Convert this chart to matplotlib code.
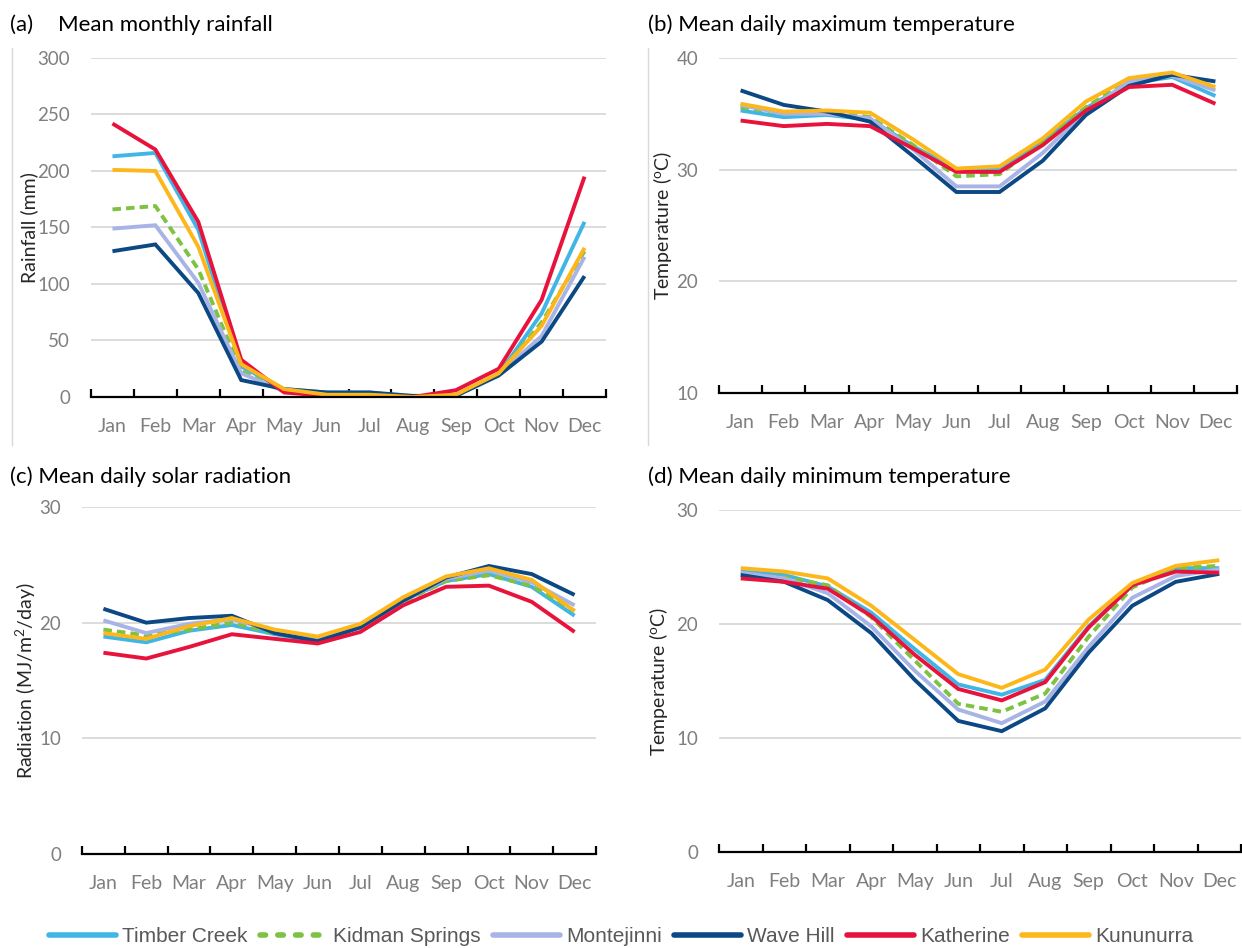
import matplotlib
matplotlib.use("Agg")
import matplotlib.pyplot as plt
from matplotlib.ticker import FixedLocator, NullFormatter, FixedFormatter
from matplotlib.lines import Line2D

# ---- data -----------------------------------------------------------------
months = ["Jan", "Feb", "Mar", "Apr", "May", "Jun",
          "Jul", "Aug", "Sep", "Oct", "Nov", "Dec"]
stations = ["Timber Creek", "Kidman Springs", "Montejinni",
            "Wave Hill", "Katherine", "Kununurra"]

rain_timber = [213, 216, 148, 27, 7, 4, 4, 0, 2, 20, 74, 155]
rain_kidman = [166, 169, 113, 23, 5, 2, 2, 0, 1, 20, 66, 129]
rain_monte = [149, 152, 101, 21, 5, 3, 3, 0, 2, 20, 54, 124]
rain_wave = [129, 135, 92, 15, 7, 4, 4, 1, 1, 19, 49, 107]
rain_kath = [242, 219, 155, 33, 4, 1, 1, 0, 6, 25, 86, 195]
rain_kunu = [201, 200, 133, 29, 7, 2, 2, 0, 2, 21, 63, 132]

tmax_timber = [35.3, 34.7, 34.9, 34.5, 32.1, 30.0, 30.0, 32.5, 35.5, 37.7, 38.3, 36.6]
tmax_kidman = [35.6, 35.0, 35.2, 34.7, 32.2, 29.4, 29.6, 32.5, 35.6, 38.0, 38.4, 37.3]
tmax_monte = [35.8, 35.0, 35.0, 34.6, 31.8, 28.5, 28.5, 31.5, 35.2, 37.9, 38.4, 37.1]
tmax_wave = [37.1, 35.8, 35.2, 34.3, 31.2, 28.0, 28.0, 30.8, 34.9, 37.5, 38.5, 37.9]
tmax_kath = [34.4, 33.9, 34.1, 33.9, 31.9, 29.8, 29.8, 32.2, 35.3, 37.4, 37.6, 35.9]
tmax_kunu = [35.9, 35.2, 35.3, 35.1, 32.7, 30.1, 30.3, 32.8, 36.1, 38.2, 38.7, 37.4]

rad_timber = [18.8, 18.3, 19.3, 19.8, 19.0, 18.4, 19.6, 21.9, 23.6, 24.2, 23.1, 20.6]
rad_kidman = [19.4, 18.9, 19.4, 20.0, 19.1, 18.6, 19.6, 21.8, 23.6, 24.1, 23.2, 21.0]
rad_monte = [20.2, 19.1, 19.9, 20.3, 19.3, 18.6, 19.6, 21.9, 23.8, 24.5, 23.5, 21.5]
rad_wave = [21.2, 20.0, 20.4, 20.6, 19.1, 18.4, 19.6, 21.9, 23.9, 24.9, 24.2, 22.4]
rad_kath = [17.4, 16.9, 17.9, 19.0, 18.6, 18.2, 19.2, 21.5, 23.1, 23.2, 21.8, 19.2]
rad_kunu = [19.1, 18.6, 19.7, 20.4, 19.4, 18.8, 19.9, 22.2, 24.0, 24.7, 23.7, 21.0]

tmin_timber = [24.6, 24.3, 23.3, 21.0, 17.8, 14.7, 13.8, 15.1, 19.8, 23.4, 24.9, 24.9]
tmin_kidman = [24.3, 24.1, 23.4, 20.6, 16.8, 13.0, 12.3, 13.9, 18.9, 23.2, 24.9, 25.1]
tmin_monte = [24.5, 24.0, 22.7, 19.8, 15.9, 12.5, 11.3, 13.2, 18.0, 22.3, 24.2, 24.8]
tmin_wave = [24.3, 23.7, 22.1, 19.2, 15.1, 11.5, 10.6, 12.6, 17.5, 21.6, 23.7, 24.4]
tmin_kath = [24.0, 23.7, 23.1, 20.7, 17.3, 14.3, 13.3, 14.9, 19.7, 23.4, 24.6, 24.5]
tmin_kunu = [24.9, 24.6, 24.0, 21.6, 18.6, 15.6, 14.4, 16.0, 20.4, 23.6, 25.1, 25.6]

rain_ticks = [0, 50, 100, 150, 200, 250, 300]
tmax_ticks = [10, 20, 30, 40]
rad_ticks = [0, 10, 20, 30]
tmin_ticks = [0, 10, 20, 30]

# ---- styling ----------------------------------------------------------------
colors = ["#41B6E6", "#7DC242", "#A8B3E6", "#0B4884", "#E8133C", "#FDB71A"]
dashes = ["-", (0, (2.2, 1.3)), "-", "-", "-", "-"]
FONT = ["Lato", "DejaVu Sans"]
plt.rcParams["font.family"] = FONT
plt.rcParams["mathtext.fontset"] = "custom"
plt.rcParams["mathtext.rm"] = "Lato"
plt.rcParams["mathtext.it"] = "Lato:italic"

W, H = 1242, 948
fig = plt.figure(figsize=(W / 100, H / 100), dpi=100)
fig.patch.set_facecolor("white")


def rect(x0, x1, ytop, ybot):
    return [x0 / W, 1 - ybot / H, (x1 - x0) / W, (ybot - ytop) / H]


def panel(r, series, yticks, ylabel):
    ax = fig.add_axes(r)
    x = list(range(len(months)))
    for vals, c, ls in zip(series, colors, dashes):
        ax.plot(x, vals, color=c, lw=2.8, linestyle=ls,
                solid_joinstyle="miter", solid_capstyle="butt",
                dash_capstyle="butt", zorder=3)
    ax.set_xlim(-0.5, len(months) - 0.5)
    ax.set_ylim(yticks[0], yticks[-1])
    for s in ("left", "right", "top"):
        ax.spines[s].set_visible(False)
    ax.spines["bottom"].set_color("black")
    ax.spines["bottom"].set_linewidth(1.6)
    ax.spines["bottom"].set_zorder(4)
    # category boundary ticks pointing up, month names centred between them
    ax.xaxis.set_major_locator(FixedLocator([i - 0.5 for i in range(len(months) + 1)]))
    ax.xaxis.set_major_formatter(NullFormatter())
    ax.xaxis.set_minor_locator(FixedLocator(x))
    ax.xaxis.set_minor_formatter(FixedFormatter(months))
    ax.tick_params(axis="x", which="major", direction="in", length=6,
                   width=1.6, color="black")
    ax.tick_params(axis="x", which="minor", length=0, pad=15,
                   labelsize=14, labelcolor="#7F7F7F")
    ax.set_yticks(yticks)
    ax.tick_params(axis="y", length=0, pad=15, labelsize=13.5,
                   labelcolor="#7F7F7F")
    for t in yticks[1:]:
        ax.axhline(t, color="#D9D9D9", lw=1.3, zorder=1)
    ax.set_ylabel(ylabel, fontsize=14, color="#262626")
    ax.set_facecolor("none")
    return ax


ax_a = panel(rect(91, 606, 58, 397),
             [rain_timber, rain_kidman, rain_monte, rain_wave, rain_kath, rain_kunu],
             rain_ticks, "Rainfall (mm)")
ax_b = panel(rect(719, 1237, 58, 393),
             [tmax_timber, tmax_kidman, tmax_monte, tmax_wave, tmax_kath, tmax_kunu],
             tmax_ticks, r"Temperature ($^{\mathrm{o}}$C)")
ax_c = panel(rect(82, 596, 507, 854),
             [rad_timber, rad_kidman, rad_monte, rad_wave, rad_kath, rad_kunu],
             rad_ticks, r"Radiation (MJ/m$^{2}$/day)")
ax_d = panel(rect(719, 1241, 510, 852),
             [tmin_timber, tmin_kidman, tmin_monte, tmin_wave, tmin_kath, tmin_kunu],
             tmin_ticks, r"Temperature ($^{\mathrm{o}}$C)")

# y-label right edges, in pixels from the figure's left side
for ax, xr, x0, wdt in ((ax_a, 38, 91, 515), (ax_b, 674, 719, 518),
                        (ax_c, 38, 82, 514), (ax_d, 670, 719, 522)):
    ax.yaxis.set_label_coords((xr - x0) / wdt, 0.5)

# panel titles
title_kw = dict(fontsize=16, color="black", va="baseline", ha="left")
fig.text(10 / W, 1 - 31 / H, "(a)", **title_kw)
fig.text(58 / W, 1 - 31 / H, "Mean monthly rainfall", **title_kw)
fig.text(648 / W, 1 - 31 / H, "(b) Mean daily maximum temperature", **title_kw)
fig.text(10 / W, 1 - 483 / H, "(c) Mean daily solar radiation", **title_kw)
fig.text(648 / W, 1 - 483 / H, "(d) Mean daily minimum temperature", **title_kw)

# faint chart-area borders on the upper panels
for xb in (12, 648):
    fig.add_artist(Line2D([xb / W, xb / W], [1 - 445 / H, 1 - 48 / H],
                          color="#D9D9D9", lw=1.0))

# shared legend
handles = [Line2D([], [], color=c, lw=4, linestyle=ls,
                  solid_capstyle="round", dash_capstyle="round")
           for c, ls in zip(colors, ["-", (0, (1.0, 2.2)), "-", "-", "-", "-"])]
leg = fig.legend(handles, stations, loc="center", ncol=6,
                 bbox_to_anchor=(621 / W, 1 - 937 / H), frameon=False,
                 prop={"family": ["Liberation Sans", "DejaVu Sans"], "size": 15},
                 handlelength=3.2, handletextpad=0.3, columnspacing=0.6,
                 borderaxespad=0, borderpad=0)
for t in leg.get_texts():
    t.set_color("#595959")

fig.savefig("out.png", dpi=100, facecolor="white")
